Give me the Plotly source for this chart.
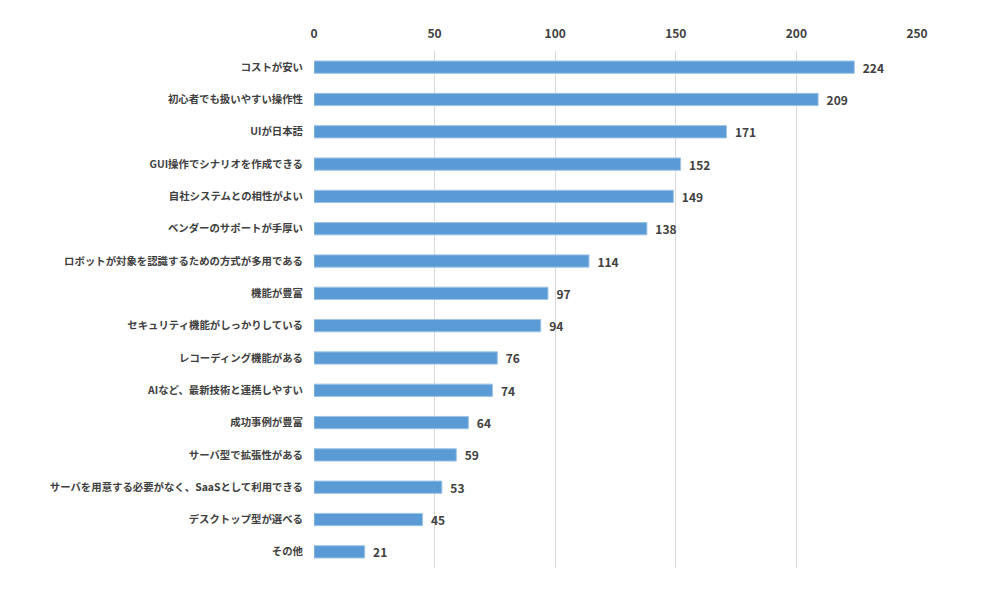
import plotly.graph_objects as go

categories = [
    "コストが安い",
    "初心者でも扱いやすい操作性",
    "UIが日本語",
    "GUI操作でシナリオを作成できる",
    "自社システムとの相性がよい",
    "ベンダーのサポートが手厚い",
    "ロボットが対象を認識するための方式が多用である",
    "機能が豊富",
    "セキュリティ機能がしっかりしている",
    "レコーディング機能がある",
    "AIなど、最新技術と連携しやすい",
    "成功事例が豊富",
    "サーバ型で拡張性がある",
    "サーバを用意する必要がなく、SaaSとして利用できる",
    "デスクトップ型が選べる",
    "その他",
]
values = [224, 209, 171, 152, 149, 138, 114, 97, 94, 76, 74, 64, 59, 53, 45, 21]
x_ticks = [0, 50, 100, 150, 200, 250]

FONT = "Noto Sans CJK JP"
TXT = "#404040"

fig = go.Figure(go.Bar(
    y=categories,
    x=values,
    orientation="h",
    marker=dict(color="#5B9BD5", line=dict(color="#9DC3E6", width=1)),
    texttemplate="\u00a0\u00a0%{x}",
    textposition="outside",
    constraintext="none",
    textfont=dict(family=FONT, size=12, color=TXT, weight="bold"),
    cliponaxis=False,
))

fig.update_layout(
    width=1000, height=589,
    margin=dict(l=306, r=91, t=43, b=29),
    paper_bgcolor="white", plot_bgcolor="white",
    bargap=0.62,
    showlegend=False,
    font=dict(family=FONT, color=TXT),
    xaxis=dict(
        side="top", range=[0, 250], tickvals=x_ticks,
        showgrid=True, gridcolor="#D9D9D9", gridwidth=1,
        zeroline=False, showline=False,
        tickfont=dict(family=FONT, size=12, color=TXT, weight="bold"),
        ticklabelstandoff=10,
    ),
    yaxis=dict(
        autorange="reversed", categoryorder="array", categoryarray=categories,
        showgrid=False, zeroline=False, showline=False,
        tickfont=dict(family=FONT, size=10.4, color=TXT, weight="bold"),
        ticklabelstandoff=10,
    ),
)

fig.write_html("out.html")
